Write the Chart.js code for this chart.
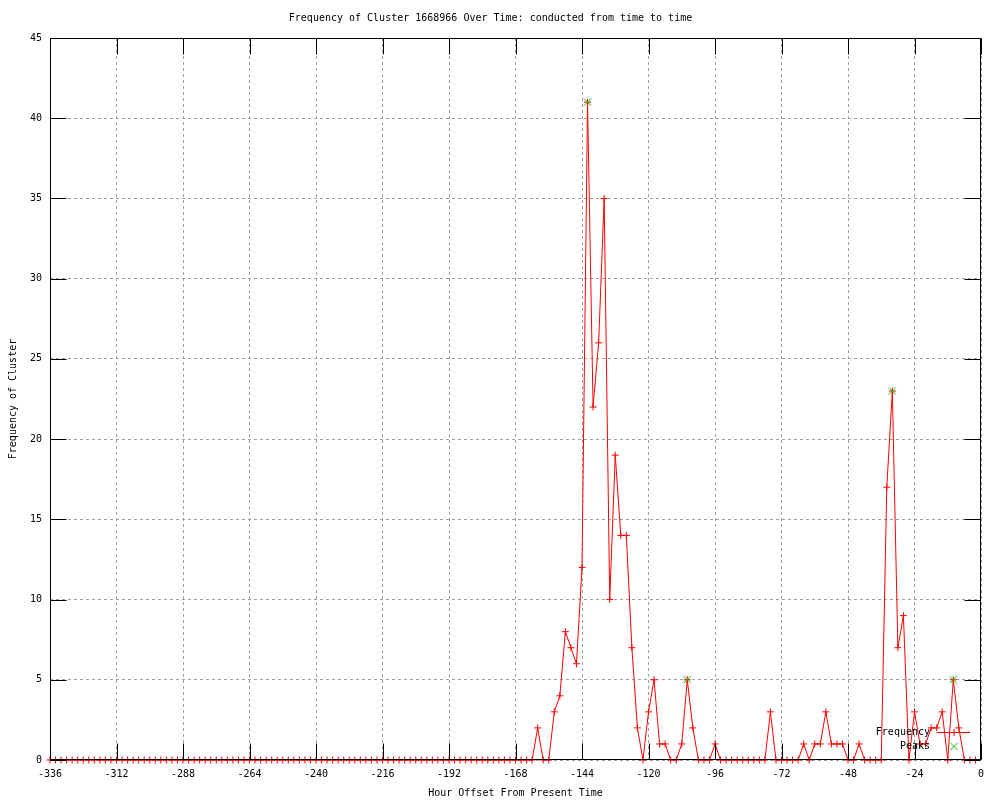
<!DOCTYPE html>
<html><head><meta charset="utf-8">
<script src="https://cdn.jsdelivr.net/npm/chart.js@4/dist/chart.umd.min.js"></script>
<style>html,body{margin:0;padding:0;background:#fff;}</style>
</head><body>
<canvas id="c" width="1000" height="800"></canvas>
<script>
const chartTitle = 'Frequency of Cluster 1668966 Over Time: conducted from time to time';
const xAxisTitle = 'Hour Offset From Present Time';
const yAxisTitle = 'Frequency of Cluster';
const seriesNames = ['Frequency', 'Peaks'];

const hours = [
  -336,-334,-332,-330,-328,-326,-324,-322,-320,-318,-316,-314,-312,-310,-308,-306,-304,-302,-300,-298,
  -296,-294,-292,-290,-288,-286,-284,-282,-280,-278,-276,-274,-272,-270,-268,-266,-264,-262,-260,-258,
  -256,-254,-252,-250,-248,-246,-244,-242,-240,-238,-236,-234,-232,-230,-228,-226,-224,-222,-220,-218,
  -216,-214,-212,-210,-208,-206,-204,-202,-200,-198,-196,-194,-192,-190,-188,-186,-184,-182,-180,-178,
  -176,-174,-172,-170,-168,-166,-164,-162,-160,-158,-156,-154,-152,-150,-148,-146,-144,-142,-140,-138,
  -136,-134,-132,-130,-128,-126,-124,-122,-120,-118,-116,-114,-112,-110,-108,-106,-104,-102,-100,-98,
  -96,-94,-92,-90,-88,-86,-84,-82,-80,-78,-76,-74,-72,-70,-68,-66,-64,-62,-60,-58,
  -56,-54,-52,-50,-48,-46,-44,-42,-40,-38,-36,-34,-32,-30,-28,-26,-24,-22,-20,-18,
  -16,-14,-12,-10,-8,-6,-4,-2
];
const frequency = [
  0,0,0,0,0,0,0,0,0,0,0,0,0,0,0,0,0,0,0,0,
  0,0,0,0,0,0,0,0,0,0,0,0,0,0,0,0,0,0,0,0,
  0,0,0,0,0,0,0,0,0,0,0,0,0,0,0,0,0,0,0,0,
  0,0,0,0,0,0,0,0,0,0,0,0,0,0,0,0,0,0,0,0,
  0,0,0,0,0,0,0,0,2,0,0,3,4,8,7,6,12,41,22,26,
  35,10,19,14,14,7,2,0,3,5,1,1,0,0,1,5,2,0,0,0,
  1,0,0,0,0,0,0,0,0,0,3,0,0,0,0,0,1,0,1,1,
  3,1,1,1,0,0,1,0,0,0,0,17,23,7,9,0,3,1,1,2,
  2,3,0,5,2,0,0,0
];
const peakHours = [-142, -106, -32, -10];
const peakValues = [41, 5, 23, 5];

const xTickValues = [-336,-312,-288,-264,-240,-216,-192,-168,-144,-120,-96,-72,-48,-24,0];
const yTickValues = [0,5,10,15,20,25,30,35,40,45];

const FONT = {family: '"DejaVu Sans Mono", monospace', size: 10, lineHeight: 1.2, weight: 'normal'};
const RED = '#ff0000';
const GREEN = '#00c000';
const TICK_LEN = 16;

const framePlugin = {
  id: 'frame',
  afterDraw(chart) {
    const {ctx, chartArea: a, scales: {x, y}} = chart;
    ctx.save();
    ctx.strokeStyle = '#000';
    ctx.lineWidth = 1;
    const L = Math.round(a.left) + 0.5, R = Math.round(a.right) - 0.5;
    const T = Math.round(a.top) + 0.5, B = Math.round(a.bottom) - 0.5;
    ctx.beginPath();
    xTickValues.forEach(v => {
      const px = Math.round(x.getPixelForValue(v)) + 0.5;
      ctx.moveTo(px, B); ctx.lineTo(px, B - TICK_LEN);
      ctx.moveTo(px, T); ctx.lineTo(px, T + TICK_LEN);
    });
    yTickValues.forEach(v => {
      const py = Math.round(y.getPixelForValue(v)) + 0.5;
      ctx.moveTo(L, py); ctx.lineTo(L + TICK_LEN, py);
      ctx.moveTo(R, py); ctx.lineTo(R - TICK_LEN, py);
    });
    ctx.stroke();
    ctx.strokeRect(L, T, R - L, B - T);

    // legend (gnuplot style: text right-aligned, sample to the right)
    const textRight = a.right - 51;
    const sx0 = a.right - 44, sx1 = a.right - 11, sxm = (sx0 + sx1) / 2;
    const y1 = a.bottom - 28, y2 = a.bottom - 14;
    ctx.font = '10px "DejaVu Sans Mono", monospace';
    ctx.fillStyle = '#000';
    ctx.textAlign = 'right';
    ctx.textBaseline = 'middle';
    ctx.fillText(seriesNames[0], textRight, y1);
    ctx.fillText(seriesNames[1], textRight, y2);
    ctx.strokeStyle = RED;
    ctx.beginPath();
    ctx.moveTo(sx0, y1 + 0.5); ctx.lineTo(sx1, y1 + 0.5);
    ctx.moveTo(sxm + 0.5, y1 - 3); ctx.lineTo(sxm + 0.5, y1 + 4);
    ctx.stroke();
    ctx.strokeStyle = GREEN;
    ctx.beginPath();
    ctx.moveTo(sxm - 3, y2 - 3); ctx.lineTo(sxm + 4, y2 + 4);
    ctx.moveTo(sxm + 4, y2 - 3); ctx.lineTo(sxm - 3, y2 + 4);
    ctx.stroke();
    ctx.restore();
  }
};

new Chart(document.getElementById('c'), {
  type: 'line',
  data: {
    datasets: [
      {
        label: seriesNames[0],
        data: hours.map((h, i) => ({x: h, y: frequency[i]})),
        borderColor: RED,
        borderWidth: 1,
        pointStyle: 'cross',
        pointRadius: 3.5,
        pointBorderColor: RED,
        pointBorderWidth: 1,
        tension: 0,
        fill: false,
        clip: false,
        order: 2
      },
      {
        label: seriesNames[1],
        data: peakHours.map((h, i) => ({x: h, y: peakValues[i]})),
        showLine: false,
        pointStyle: 'crossRot',
        pointRadius: 5,
        pointBorderColor: GREEN,
        borderColor: GREEN,
        pointBorderWidth: 1,
        clip: false,
        order: 1
      }
    ]
  },
  options: {
    responsive: false,
    animation: false,
    devicePixelRatio: 1,
    events: [],
    layout: {padding: {top: 0, right: 19, bottom: 0, left: 0}},
    plugins: {
      legend: {display: false},
      tooltip: {enabled: false},
      title: {
        display: true,
        text: chartTitle,
        color: '#000',
        font: FONT,
        padding: {top: 12, bottom: 14}
      }
    },
    scales: {
      x: {
        type: 'linear',
        min: -336,
        max: 0,
        afterBuildTicks: s => { s.ticks = xTickValues.map(v => ({value: v})); },
        ticks: {color: '#000', font: FONT, padding: 8, maxRotation: 0, autoSkip: false},
        grid: {color: '#a0a0a0', lineWidth: 1, drawTicks: false, borderDash: [3, 3]},
        border: {display: false, dash: [3, 3]},
        title: {display: true, text: xAxisTitle, color: '#000', font: FONT, padding: {top: 0, bottom: 1}},
        afterFit: s => { s.height = 40; }
      },
      y: {
        type: 'linear',
        min: 0,
        max: 45,
        afterBuildTicks: s => { s.ticks = yTickValues.map(v => ({value: v})); },
        ticks: {color: '#000', font: FONT, padding: 8},
        grid: {color: '#a0a0a0', lineWidth: 1, drawTicks: false, borderDash: [3, 3]},
        border: {display: false, dash: [3, 3]},
        title: {display: true, text: yAxisTitle, color: '#000', font: FONT, padding: {top: 7, bottom: 0}},
        afterFit: s => { s.width = 50; }
      }
    }
  },
  plugins: [framePlugin]
});
</script>
</body></html>
